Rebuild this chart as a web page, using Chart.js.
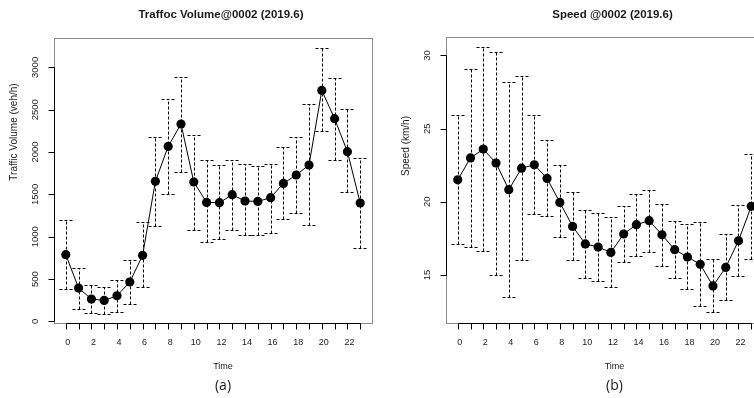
<!DOCTYPE html>
<html>
<head>
<meta charset="utf-8">
<script src="https://cdn.jsdelivr.net/npm/chart.js@4"></script>
<style>
  html, body { margin: 0; padding: 0; background: #fff; overflow: hidden; width: 754px; height: 398px; }
  #volume { position: absolute; left: 0; top: 0; }
  #speed { position: absolute; left: 377px; top: 0; }
</style>
</head>
<body>
<canvas id="volume" width="377" height="398"></canvas>
<canvas id="speed" width="392" height="398"></canvas>
<script>
const hours = [0, 1, 2, 3, 4, 5, 6, 7, 8, 9, 10, 11, 12, 13, 14, 15, 16, 17, 18, 19, 20, 21, 22, 23];
const hourLabels = hours.map((h) => (h % 2 === 0 ? String(h) : ""));

// traffic volume (veh/h): mean and the ends of each error bar
const volumeMean = [788, 394, 264, 248, 303, 465, 780, 1654, 2067, 2331, 1646, 1405, 1402, 1496, 1422, 1417, 1461, 1630, 1729, 1847, 2728, 2394, 2004, 1398];
const volumeUpper = [1193, 634, 425, 406, 492, 720, 1169, 2181, 2627, 2886, 2205, 1910, 1851, 1902, 1854, 1839, 1859, 2063, 2178, 2563, 3224, 2875, 2509, 1925];
const volumeLower = [383, 150, 99, 87, 115, 205, 402, 1127, 1505, 1768, 1083, 938, 973, 1079, 1016, 1016, 1048, 1209, 1276, 1138, 2244, 1906, 1524, 867];
const volumeTicks = [0, 500, 1000, 1500, 2000, 2500, 3000];

// speed (km/h)
const speedMean = [21.5, 23.0, 23.6, 22.65, 20.83, 22.3, 22.53, 21.6, 19.96, 18.32, 17.12, 16.91, 16.54, 17.8, 18.44, 18.71, 17.75, 16.73, 16.23, 15.73, 14.25, 15.52, 17.34, 19.69];
const speedUpper = [25.95, 29.1, 30.55, 30.23, 28.2, 28.6, 25.95, 24.24, 22.5, 20.67, 19.41, 19.23, 18.93, 19.71, 20.55, 20.83, 19.85, 18.66, 18.46, 18.6, 16.11, 17.8, 19.75, 23.27];
const speedLower = [17.1, 16.9, 16.66, 15.0, 13.5, 16.05, 19.14, 19.0, 17.57, 16.02, 14.79, 14.56, 14.18, 15.86, 16.32, 16.57, 15.64, 14.82, 14.02, 12.88, 12.45, 13.31, 14.9, 16.09];
const speedTicks = [15, 20, 25, 30];

const FONT = "'Liberation Sans', Arial, sans-serif";

// base-R look: dashed error bars, grey box, black axes with outward ticks
const rStyle = {
  id: "rStyle",
  beforeDatasetsDraw(chart, args, o) {
    const { ctx } = chart;
    const x = chart.scales.x;
    const y = chart.scales.y;
    ctx.save();
    ctx.strokeStyle = "#000";
    ctx.lineWidth = 1;
    ctx.setLineDash([3, 2]);
    hours.forEach((h, i) => {
      const px = Math.round(x.getPixelForValue(h)) + 0.5;
      const top = Math.round(y.getPixelForValue(o.upper[i])) + 0.5;
      const bot = Math.round(y.getPixelForValue(o.lower[i])) + 0.5;
      ctx.beginPath();
      ctx.moveTo(px, bot);
      ctx.lineTo(px, top);
      ctx.stroke();
      ctx.beginPath();
      ctx.moveTo(px - 7, top);
      ctx.lineTo(px + 7, top);
      ctx.moveTo(px - 7, bot);
      ctx.lineTo(px + 7, bot);
      ctx.stroke();
    });
    ctx.restore();
  },
  afterDraw(chart, args, o) {
    const { ctx, chartArea: a } = chart;
    const x = chart.scales.x;
    const y = chart.scales.y;
    const L = Math.round(a.left) + 0.5;
    const B = Math.round(a.bottom) + 0.5;
    const mid = (a.left + a.right) / 2;
    ctx.save();

    ctx.strokeStyle = "#8a8a8a";
    ctx.lineWidth = 1;
    ctx.strokeRect(L, Math.round(a.top) + 0.5, Math.round(a.right - a.left), Math.round(a.bottom - a.top));

    ctx.strokeStyle = "#000";
    ctx.beginPath();
    const xFirst = Math.round(x.getPixelForValue(hours[0])) + 0.5;
    const xLast = Math.round(x.getPixelForValue(hours[hours.length - 1])) + 0.5;
    ctx.moveTo(xFirst, B);
    ctx.lineTo(xLast, B);
    hours.forEach((h) => {
      const px = Math.round(x.getPixelForValue(h)) + 0.5;
      ctx.moveTo(px, B);
      ctx.lineTo(px, B + 6);
    });
    const yFirst = Math.round(y.getPixelForValue(o.ticks[0])) + 0.5;
    const yLast = Math.round(y.getPixelForValue(o.ticks[o.ticks.length - 1])) + 0.5;
    ctx.moveTo(L, yFirst);
    ctx.lineTo(L, yLast);
    o.ticks.forEach((t) => {
      const py = Math.round(y.getPixelForValue(t)) + 0.5;
      ctx.moveTo(L, py);
      ctx.lineTo(L - 6, py);
    });
    ctx.stroke();

    ctx.fillStyle = "#1a1a1a";
    ctx.textAlign = "center";
    ctx.textBaseline = "middle";
    ctx.font = "9px " + FONT;
    hourLabels.forEach((t, i) => {
      ctx.fillText(t, x.getPixelForValue(hours[i]) + 2, a.bottom + 20);
    });
    ctx.fillText("Time", mid + 10, a.bottom + 43.5);

    ctx.font = "9.5px " + FONT;
    o.ticks.forEach((t) => {
      ctx.save();
      ctx.translate(a.left - 18.5, y.getPixelForValue(t));
      ctx.rotate(-Math.PI / 2);
      ctx.fillText(String(t), 0, 0);
      ctx.restore();
    });

    ctx.font = "10px " + FONT;
    ctx.save();
    ctx.translate(a.left - 40, o.yTitleY);
    ctx.rotate(-Math.PI / 2);
    ctx.fillText(o.yTitle, 0, 0);
    ctx.restore();

    ctx.font = "bold 11.5px " + FONT;
    ctx.fillText(o.title, mid + 8, 15);

    ctx.font = "14px 'Open Sans', sans-serif";
    ctx.fillText(o.tag, mid + 10, a.bottom + 63.5);
    ctx.restore();
  },
};

const makeChart = (id, mean, lower, upper, ticks, yMin, yMax, padding, texts) => {
  new Chart(id, {
    type: "line",
    data: {
      datasets: [
        {
          data: hours.map((h, i) => ({ x: h, y: mean[i] })),
          borderColor: "#000",
          borderWidth: 1,
          tension: 0,
          pointRadius: 4.6,
          pointBackgroundColor: "#000",
          pointBorderWidth: 0,
        },
      ],
    },
    options: {
      responsive: false,
      devicePixelRatio: 1,
      animation: false,
      layout: { padding },
      scales: {
        x: { type: "linear", min: -0.92, max: 23.92, display: false },
        y: { type: "linear", min: yMin, max: yMax, display: false },
      },
      plugins: {
        legend: { display: false },
        tooltip: { enabled: false },
        rStyle: { lower, upper, ticks, ...texts },
      },
    },
    plugins: [rStyle],
  });
};

makeChart("volume", volumeMean, volumeLower, volumeUpper, volumeTicks, -19, 3347,
  { left: 54, right: 5, top: 38, bottom: 75 },
  { title: "Traffoc Volume@0002 (2019.6)", yTitle: "Traffic Volume (veh/h)", yTitleY: 132, tag: "(a)" });

makeChart("speed", speedMean, speedLower, speedUpper, speedTicks, 11.72, 31.26,
  { left: 69, right: 6, top: 37, bottom: 75 },
  { title: "Speed @0002 (2019.6)", yTitle: "Speed (km/h)", yTitleY: 146, tag: "(b)" });
</script>
</body>
</html>
